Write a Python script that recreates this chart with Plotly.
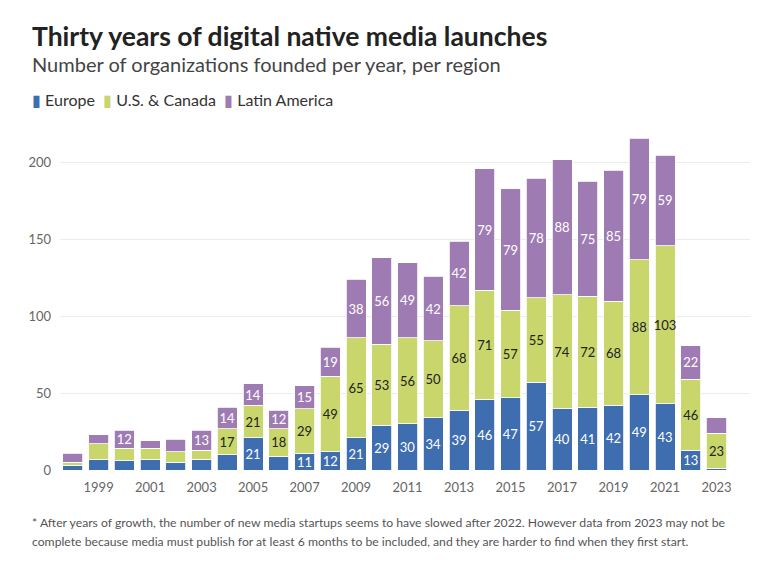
import plotly.graph_objects as go

years = list(range(1998, 2024))
europe = [3, 7, 6, 7, 5, 7, 10, 21, 9, 11, 12, 21, 29, 30, 34, 39, 46, 47, 57, 40, 41, 42, 49, 43, 13, 1]
us_canada = [2, 10, 8, 7, 7, 6, 17, 21, 18, 29, 49, 65, 53, 56, 50, 68, 71, 57, 55, 74, 72, 68, 88, 103, 46, 23]
latin_america = [6, 6, 12, 5, 8, 13, 14, 14, 12, 15, 19, 38, 56, 49, 42, 42, 79, 79, 78, 88, 75, 85, 79, 59, 22, 10]
tick_years = list(range(1999, 2024, 2))
y_ticks = [0, 50, 100, 150, 200]

C_EU = "#3e6db0"
C_US = "#c8d66c"
C_LA = "#9f7bb4"
FONT = "Lato"

def labels(vals):
    return [str(v) if v >= 11 else "" for v in vals]

fig = go.Figure()
for name, vals, col, tcol in [
    ("Europe", europe, C_EU, "white"),
    ("U.S. & Canada", us_canada, C_US, "#222222"),
    ("Latin America", latin_america, C_LA, "white"),
]:
    fig.add_trace(go.Bar(
        x=years, y=vals, name=name,
        marker=dict(color=col, line=dict(color="white", width=0.8)),
        text=labels(vals), textposition="inside", insidetextanchor="middle",
        textangle=0,
        textfont=dict(color=tcol, size=13, family=FONT),
        showlegend=False, cliponaxis=False,
    ))

L, R, T, B = 60, 18, 132, 94
W, H = 768, 564
pw, ph = W - L - R, H - T - B

def px(x):
    return (x - L) / pw

def py(y):
    return (H - B - y) / ph

annotations = [
    dict(text="<b>Thirty years of digital native media launches</b>", x=px(30), y=py(36),
         font=dict(size=26.5, color="#222222", family=FONT)),
    dict(text="Number of organizations founded per year, per region", x=px(30), y=py(64),
         font=dict(size=20, color="#444444", family=FONT)),
    dict(text=(f'<span style="color:{C_EU}">▮</span> Europe  '
               f'<span style="color:{C_US}">▮</span> U.S. &amp; Canada  '
               f'<span style="color:{C_LA}">▮</span> Latin America'),
         x=px(30), y=py(100), font=dict(size=16, color="#333333", family=FONT)),
    dict(text="* After years of growth, the number of new media startups seems to have slowed after 2022. However data from 2023 may not be",
         x=px(30), y=py(522), font=dict(size=12.2, color="#555555", family=FONT)),
    dict(text="complete because media must publish for at least 6 months to be included, and they are harder to find when they first start.",
         x=px(30), y=py(541), font=dict(size=12.2, color="#555555", family=FONT)),
]
for a in annotations:
    a.update(xref="paper", yref="paper", xanchor="left", yanchor="middle", showarrow=False, align="left")

fig.update_layout(
    barmode="stack", bargap=0.22,
    width=W, height=H,
    margin=dict(l=L, r=R, t=T, b=B),
    paper_bgcolor="white", plot_bgcolor="white",
    font=dict(family=FONT, color="#666666"),
    annotations=annotations,
    uniformtext=dict(minsize=13, mode="show"),
)
fig.update_xaxes(
    range=[1997.5, 2024.3], tickvals=tick_years, ticktext=[str(y) for y in tick_years],
    tickfont=dict(size=13, color="#666666"), showgrid=False, zeroline=False, showline=False,
    ticks="", ticklabelstandoff=8, fixedrange=True,
)
fig.update_yaxes(
    range=[0, 220], tickvals=y_ticks, tickfont=dict(size=13, color="#666666"),
    gridcolor="#ececec", gridwidth=1, zeroline=False, showline=False, ticks="",
    ticklabelstandoff=8, fixedrange=True,
)

fig.write_html("out.html")
